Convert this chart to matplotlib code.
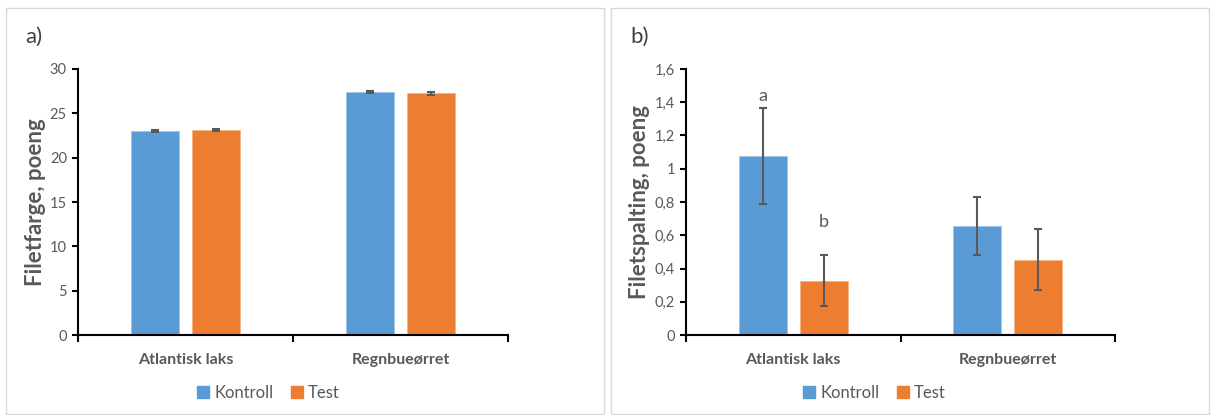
import matplotlib
matplotlib.use("Agg")
import matplotlib.pyplot as plt
from matplotlib.patches import Rectangle
from matplotlib.lines import Line2D
import numpy as np

plt.rcParams['font.family'] = ['Lato', 'DejaVu Sans']

categories = ["Atlantisk laks", "Regnbueørret"]
series = ["Kontroll", "Test"]

# Panel a: Filetfarge
a_kontroll = [23.0, 27.4]
a_test = [23.1, 27.25]
a_kontroll_err = [0.15, 0.1]
a_test_err = [0.1, 0.15]
a_yticks = [0, 5, 10, 15, 20, 25, 30]
a_yticklabels = ["0", "5", "10", "15", "20", "25", "30"]

# Panel b: Filetspalting
b_kontroll = [1.075, 0.656]
b_test = [0.327, 0.453]
b_kontroll_err = [0.29, 0.175]
b_test_err = [0.155, 0.185]
b_yticks = [0, 0.2, 0.4, 0.6, 0.8, 1.0, 1.2, 1.4, 1.6]
b_yticklabels = ["0", "0,2", "0,4", "0,6", "0,8", "1", "1,2", "1,4", "1,6"]
b_letters = ["a", "b"]
b_letter_y = [1.44, 0.68]

BLUE = "#5B9BD5"
ORANGE = "#ED7D31"
GRAY = "#595959"

W, H = 1212, 415
fig = plt.figure(figsize=(W / 100, H / 100), dpi=100)

# panel frames
for x0 in (6, 611):
    fig.patches.append(Rectangle((x0 / W, 1 / H), 598 / W, 406 / H, transform=fig.transFigure,
                                 fill=False, edgecolor="#D9D9D9", linewidth=1.0))


def draw(ax, kon, test, kerr, terr, yticks, yticklabels, ylabel, ymax, labx):
    x = np.arange(len(categories))
    width = 0.223
    off = 0.142
    ax.bar(x - off, kon, width, color=BLUE, edgecolor="#9DC3E6", linewidth=0.5, zorder=2)
    ax.bar(x + off, test, width, color=ORANGE, edgecolor="#F4B183", linewidth=0.5, zorder=2)
    ax.errorbar(x - off, kon, yerr=kerr, fmt="none", ecolor=GRAY, elinewidth=1.5, capsize=2.6,
                capthick=1.5, zorder=3)
    ax.errorbar(x + off, test, yerr=terr, fmt="none", ecolor=GRAY, elinewidth=1.5, capsize=2.6,
                capthick=1.5, zorder=3)
    ax.set_xlim(-0.5, len(categories) - 0.5)
    ax.set_ylim(0, ymax)
    ax.set_yticks(yticks)
    ax.set_yticklabels(yticklabels)
    ax.set_xticks([-0.5, 0.5, 1.5])
    ax.set_xticklabels([])
    ax.set_xticks(x, minor=True)
    ax.set_xticklabels(categories, minor=True, fontweight="bold", color=GRAY, fontsize=11.5)
    ax.tick_params(axis="x", which="minor", length=0, pad=13)
    ax.tick_params(axis="x", which="major", length=5, width=1.5, color="black", direction="out")
    ax.tick_params(axis="y", length=4, width=1.5, color="black", labelcolor=GRAY, labelsize=10.5,
                   direction="out", pad=4)
    for s in ("top", "right"):
        ax.spines[s].set_visible(False)
    for s in ("left", "bottom"):
        ax.spines[s].set_linewidth(1.5)
        ax.spines[s].set_color("black")
    ax.set_ylabel(ylabel, fontsize=16, fontweight="bold", color=GRAY)
    ax.yaxis.set_label_coords(labx, 0.5)
    ax.yaxis.label.set_va("center")


ax1 = fig.add_axes([78 / W, 1 - 335 / H, 430 / W, 266 / H])
draw(ax1, a_kontroll, a_test, a_kontroll_err, a_test_err, a_yticks, a_yticklabels,
     "Filetfarge, poeng", 30, (36 - 78) / 430)
ax2 = fig.add_axes([686 / W, 1 - 335 / H, 429 / W, 266 / H])
draw(ax2, b_kontroll, b_test, b_kontroll_err, b_test_err, b_yticks, b_yticklabels,
     "Filetspalting, poeng", 1.6, (640 - 686) / 429)

# significance letters
ax2.text(0 - 0.142, b_letter_y[0], b_letters[0], ha="center", va="center", fontsize=13, color=GRAY)
ax2.text(0 + 0.142, b_letter_y[1], b_letters[1], ha="center", va="center", fontsize=13, color=GRAY)

fig.text(25 / W, 1 - 37 / H, "a)", fontsize=16, color="#404040", va="center", ha="left")
fig.text(630 / W, 1 - 37 / H, "b)", fontsize=16, color="#404040", va="center", ha="left")

handles = [Line2D([], [], marker="s", linestyle="none", markersize=8, color=BLUE),
           Line2D([], [], marker="s", linestyle="none", markersize=8, color=ORANGE)]
for cx in (268, 874):
    leg = fig.legend(handles, series, loc="center", bbox_to_anchor=(cx / W, 1 - 393 / H),
                     ncol=2, frameon=False, fontsize=12, handletextpad=0.25, columnspacing=1.0,
                     handlelength=0.8)
    for t in leg.get_texts():
        t.set_color(GRAY)

fig.savefig("out.png", dpi=100)
